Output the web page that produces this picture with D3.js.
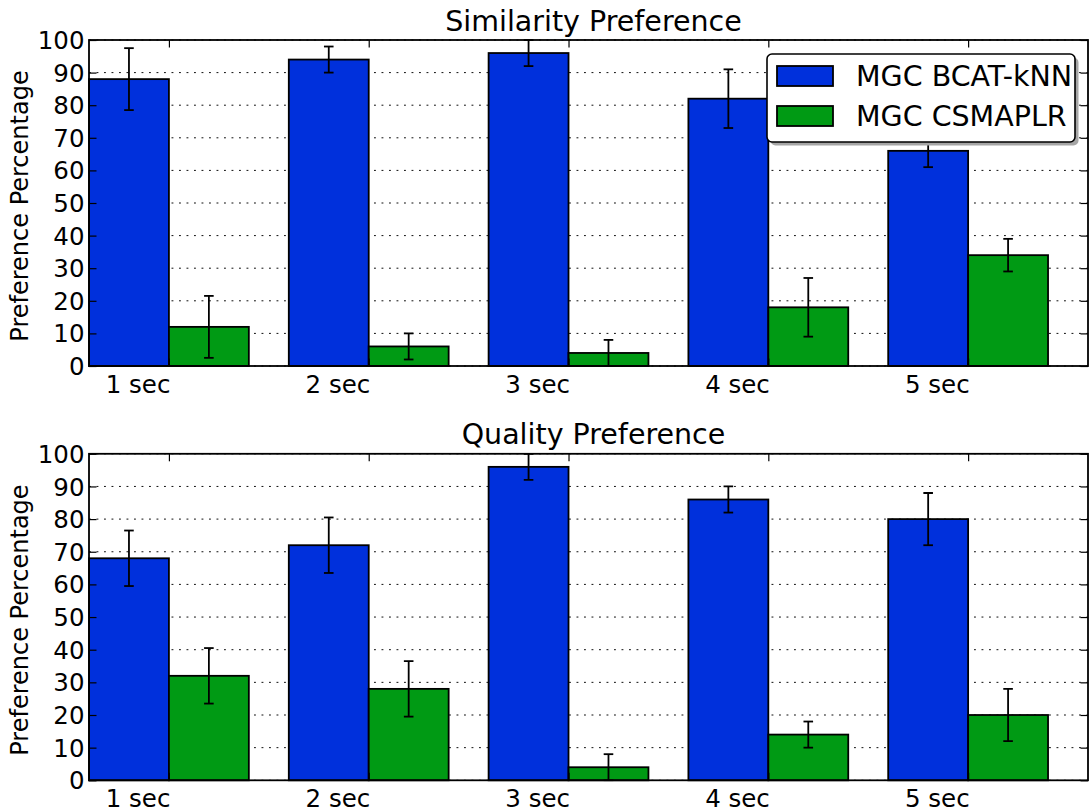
<!DOCTYPE html>
<html>
<head>
<meta charset="utf-8">
<script src="https://cdn.jsdelivr.net/npm/d3@7"></script>
<style>
  html, body { margin: 0; padding: 0; background: #fff; }
  svg { display: block; font-family: "DejaVu Sans", sans-serif; }
</style>
</head>
<body>
<svg id="chart" width="1089" height="812"></svg>
<script>
const categories = ["1 sec", "2 sec", "3 sec", "4 sec", "5 sec"];
const seriesNames = ["MGC BCAT-kNN", "MGC CSMAPLR"];
const simBCAT = [88, 94, 96, 82, 66];
const simCSMAPLR = [12, 6, 4, 18, 34];
const simErr = [9.5, 4, 4, 9, 5];
const qualBCAT = [68, 72, 96, 86, 80];
const qualCSMAPLR = [32, 28, 4, 14, 20];
const qualErr = [8.5, 8.5, 4, 4, 8];
const yTicks = [0, 10, 20, 30, 40, 50, 60, 70, 80, 90, 100];
const titles = ["Similarity Preference", "Quality Preference"];
const colors = ["#0030dc", "#009a14"];

const svg = d3.select("#chart");
const left = 89, right = 1088;
const barW = 0.4;
const tickFont = 24.5, titleFont = 28.5, legendFont = 28.5, ylabFont = 24;

const x = d3.scaleLinear().domain([0, categories.length]).range([left, right]);

const panels = [
  { top: 40, bottom: 366, title: titles[0], series: [simBCAT, simCSMAPLR], err: simErr, legend: true },
  { top: 453.8, bottom: 780.3, title: titles[1], series: [qualBCAT, qualCSMAPLR], err: qualErr, legend: false }
];

panels.forEach(p => {
  const y = d3.scaleLinear().domain([0, 100]).range([p.bottom, p.top]);
  const g = svg.append("g");

  // grid
  g.append("g").selectAll("line").data(yTicks).join("line")
    .attr("x1", left).attr("x2", right)
    .attr("y1", d => y(d)).attr("y2", d => y(d))
    .attr("stroke", "#000").attr("stroke-width", 0.95)
    .attr("stroke-dasharray", "1.9,5.6");

  // bars
  p.series.forEach((vals, s) => {
    g.append("g").selectAll("rect").data(vals).join("rect")
      .attr("x", (d, i) => x(i + s * barW))
      .attr("width", (d, i) => x(i + s * barW + barW) - x(i + s * barW))
      .attr("y", d => y(d))
      .attr("height", d => y(0) - y(d))
      .attr("fill", colors[s])
      .attr("stroke", "#000").attr("stroke-width", 1.8);
  });

  // error bars
  const clipId = "clip" + Math.round(p.top);
  svg.append("clipPath").attr("id", clipId).append("rect")
    .attr("x", left).attr("y", p.top - 1).attr("width", right - left).attr("height", p.bottom - p.top + 2);
  p.series.forEach((vals, s) => {
    const eg = g.append("g").attr("clip-path", `url(#${clipId})`);
    vals.forEach((v, i) => {
      const cx = x(i + s * barW + barW / 2);
      const e = p.err[i];
      const y1 = y(v + e), y2 = y(v - e);
      eg.append("line").attr("x1", cx).attr("x2", cx).attr("y1", y1).attr("y2", y2)
        .attr("stroke", "#000").attr("stroke-width", 1.8);
      [y1, y2].forEach(yy => {
        eg.append("line").attr("x1", cx - 4.8).attr("x2", cx + 4.8).attr("y1", yy).attr("y2", yy)
          .attr("stroke", "#000").attr("stroke-width", 1.8);
      });
    });
  });

  // y ticks (inward, both sides)
  const yAxisL = d3.axisLeft(y).tickValues(yTicks).tickSize(-7.5).tickPadding(4.5);
  const gl = g.append("g").attr("transform", `translate(${left},0)`).call(yAxisL);
  gl.select(".domain").remove();
  gl.selectAll(".tick line").attr("stroke", "#000").attr("stroke-width", 1.2);
  gl.selectAll(".tick text").attr("font-size", tickFont).attr("fill", "#000")
    .attr("font-family", "DejaVu Sans").attr("dy", "0.35em");

  const yAxisR = d3.axisRight(y).tickValues(yTicks).tickSize(-7.5).tickFormat("");
  const gr = g.append("g").attr("transform", `translate(${right},0)`).call(yAxisR);
  gr.select(".domain").remove();
  gr.selectAll(".tick line").attr("stroke", "#000").attr("stroke-width", 1.2);

  // x ticks (inward, top and bottom)
  const xt = categories.map((c, i) => i + barW);
  const xAxisB = d3.axisBottom(x).tickValues(xt).tickSize(-7.5).tickFormat("");
  const gb = g.append("g").attr("transform", `translate(0,${p.bottom})`).call(xAxisB);
  gb.select(".domain").remove();
  gb.selectAll(".tick line").attr("stroke", "#000").attr("stroke-width", 1.2);
  const xAxisT = d3.axisTop(x).tickValues(xt).tickSize(-7.5).tickFormat("");
  const gt = g.append("g").attr("transform", `translate(0,${p.top})`).call(xAxisT);
  gt.select(".domain").remove();
  gt.selectAll(".tick line").attr("stroke", "#000").attr("stroke-width", 1.2);

  // x labels (right-aligned at tick)
  g.append("g").selectAll("text").data(categories).join("text")
    .attr("x", (d, i) => x(i + barW) + 1.5)
    .attr("y", p.bottom + 26.5)
    .attr("text-anchor", "end")
    .attr("font-size", tickFont)
    .attr("fill", "#000")
    .text(d => d);

  // frame
  g.append("rect").attr("x", left).attr("y", p.top)
    .attr("width", right - left).attr("height", p.bottom - p.top)
    .attr("fill", "none").attr("stroke", "#000").attr("stroke-width", 1.8);

  // title
  g.append("text").attr("x", (left + right) / 2 + 5).attr("y", p.top - 9.5)
    .attr("text-anchor", "middle").attr("font-size", titleFont).attr("fill", "#000")
    .text(p.title);

  // y label
  g.append("text")
    .attr("transform", `translate(28,${(p.top + p.bottom) / 2 + 3}) rotate(-90)`)
    .attr("text-anchor", "middle").attr("font-size", ylabFont).attr("fill", "#000")
    .text("Preference Percentage");

  // legend
  if (p.legend) {
    const lg = svg.append("g");
    const lx = 767, ly = 54, lw = 308, lh = 88;
    lg.append("rect").attr("x", lx + 3.5).attr("y", ly + 3.5).attr("width", lw).attr("height", lh)
      .attr("rx", 5).attr("fill", "#a6a6a6");
    lg.append("rect").attr("x", lx).attr("y", ly).attr("width", lw).attr("height", lh)
      .attr("rx", 5).attr("fill", "#fff").attr("stroke", "#000").attr("stroke-width", 1.6);
    seriesNames.forEach((n, s) => {
      const yy = 66 + s * 40;
      lg.append("rect").attr("x", 777).attr("y", yy).attr("width", 56).attr("height", 20)
        .attr("fill", colors[s]).attr("stroke", "#000").attr("stroke-width", 1.8);
      lg.append("text").attr("x", 856).attr("y", yy + 20)
        .attr("font-size", legendFont).attr("fill", "#000").text(n);
    });
  }
});
</script>
</body>
</html>
